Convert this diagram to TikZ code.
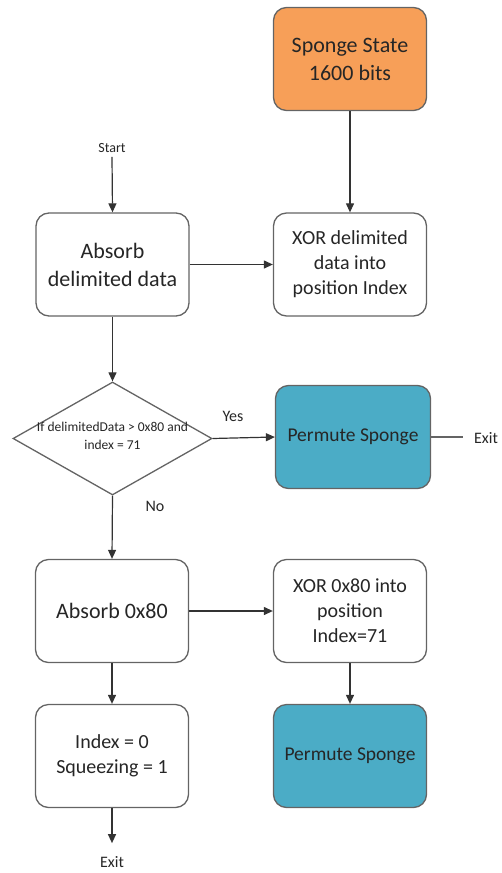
\documentclass[tikz,border=0pt]{standalone}
\usepackage{fontspec}
\setmainfont{Carlito}
\usetikzlibrary{shapes.geometric,arrows.meta}
\definecolor{spongeorange}{RGB}{247,159,88}
\definecolor{permteal}{RGB}{75,172,198}
\definecolor{edgegray}{RGB}{100,100,100}
\definecolor{txt}{RGB}{38,38,38}
\tikzset{
  box/.style={draw=edgegray, line width=1.3pt, rounded corners=13pt, fill=white,
    minimum width=153pt, minimum height=103pt, inner sep=0pt, align=center,
    text=txt, font=\fontsize{20}{25}\selectfont},
  bigbox/.style={box, font=\fontsize{22}{28}\selectfont},
  orangebox/.style={box, fill=spongeorange, font=\fontsize{22}{28}\selectfont},
  tealbox/.style={box, fill=permteal, text=black!85, font=\fontsize{19.5}{24}\selectfont},
  decision/.style={diamond, draw=edgegray, line width=1.3pt, fill=white,
    minimum width=199pt, minimum height=113pt, inner sep=0pt},
  lbl/.style={text=txt, font=\fontsize{16}{19}\selectfont, inner sep=0pt},
  flow/.style={draw=black!80, line width=1.2pt, -{Triangle[length=9pt,width=8pt]}},
  plain/.style={draw=edgegray, line width=1.2pt}
}
\begin{document}
\begin{tikzpicture}[x=1pt,y=-1pt]
\useasboundingbox (0,0) rectangle (501,873);

% boxes
\node[orangebox] (state) at (350,59) {Sponge State\\1600 bits};
\node[bigbox] (absorb) at (112.5,264.5) {Absorb\\delimited data};
\node[box] (xorA) at (350,264.5) {XOR delimited\\data into\\position Index};
\node[decision] (dec) at (112.5,438.5) {};
\node[text=txt, align=center, font=\fontsize{13.5}{18}\selectfont, inner sep=0pt] (dectext) at (112.5,436) {If delimitedData > 0x80 and\\index = 71};
\node[tealbox, minimum width=155pt] (permA) at (353,437) {Permute Sponge};
\node[bigbox] (absorbB) at (112,611) {Absorb 0x80};
\node[box] (xorB) at (350,611) {XOR 0x80 into\\position\\Index=71};
\node[box] (reset) at (112,756) {Index = 0\\Squeezing = 1};
\node[tealbox] (permB) at (350,756) {Permute Sponge};

% free labels
\node[lbl, font=\fontsize{14}{17}\selectfont] (start) at (112,148) {Start};
\node[lbl] (yes) at (233,416) {Yes};
\node[lbl] (no) at (155,506) {No};
\node[lbl] (exitA) at (486,438) {Exit};
\node[lbl] (exitB) at (112,862) {Exit};
\coordinate (exitAend) at (463,437);

% connectors
\draw[flow] (start.south) ++(0,4) -- (absorb.north);
\draw[flow] (state.south) -- (xorA.north);
\draw[flow] (absorb.east) -- (xorA.west);
\draw[flow] (absorb.south) -- (dec.north);
\draw[flow] (dec.east) -- (permA.west);
\draw[plain] (permA.east) -- (exitAend);
\draw[flow] (dec.south) -- (absorbB.north);
\draw[flow] (absorbB.east) -- (xorB.west);
\draw[flow] (absorbB.south) -- (reset.north);
\draw[flow] (xorB.south) -- (permB.north);
\draw[flow] (reset.south) -- ++(0,35) coordinate (exitBtop);
\end{tikzpicture}
\end{document}
